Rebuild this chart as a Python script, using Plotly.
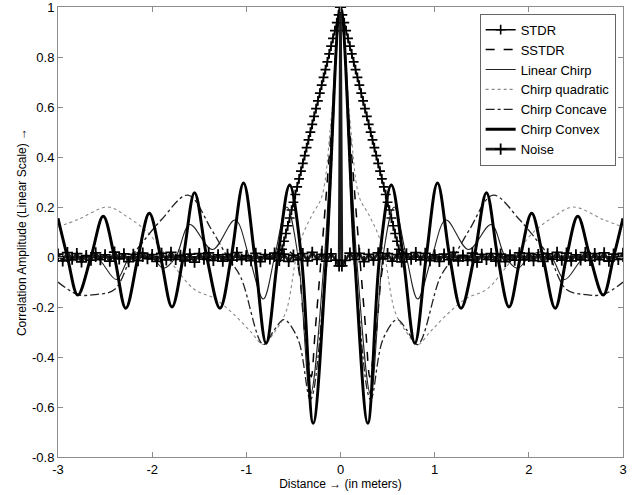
import plotly.graph_objects as go

# ---------------- data ----------------
stdr_x = [-3.0, -2.9, -2.8, -2.7, -2.6, -2.5, -2.4, -2.3, -2.2, -2.1, -2.0, -1.9, -1.8, -1.7, -1.6, -1.5,
          -1.4, -1.3, -1.2, -1.1, -1.0, -0.9, -0.8, -0.7,
          -0.64, -0.62, -0.60, -0.58, -0.56, -0.54, -0.52, -0.50, -0.48, -0.46, -0.44, -0.42, -0.40, -0.38,
          -0.36, -0.34, -0.32, -0.30, -0.28, -0.26, -0.24, -0.22, -0.20, -0.18, -0.16, -0.14, -0.12, -0.10,
          -0.08, -0.06, -0.04, -0.02, 0.0,
          0.02, 0.04, 0.06, 0.08, 0.10, 0.12, 0.14, 0.16, 0.18, 0.20, 0.22, 0.24, 0.26, 0.28, 0.30, 0.32,
          0.34, 0.36, 0.38, 0.40, 0.42, 0.44, 0.46, 0.48, 0.50, 0.52, 0.54, 0.56, 0.58, 0.60, 0.62, 0.64,
          0.7, 0.8, 0.9, 1.0, 1.1, 1.2, 1.3, 1.4, 1.5, 1.6, 1.7, 1.8, 1.9, 2.0, 2.1, 2.2, 2.3, 2.4, 2.5,
          2.6, 2.7, 2.8, 2.9, 3.0]
stdr_y = [0, 0, 0, 0, 0, 0, 0, 0, 0, 0, 0, 0, 0, 0, 0, 0, 0, 0, 0, 0, 0, 0, 0, 0,
          0.0, 0.031, 0.063, 0.094, 0.125, 0.156, 0.188, 0.219, 0.25, 0.281, 0.313, 0.344, 0.375, 0.406,
          0.438, 0.469, 0.5, 0.531, 0.563, 0.594, 0.625, 0.656, 0.688, 0.719, 0.75, 0.781, 0.813, 0.844,
          0.875, 0.906, 0.938, 0.969, 1.0,
          0.969, 0.938, 0.906, 0.875, 0.844, 0.813, 0.781, 0.75, 0.719, 0.688, 0.656, 0.625, 0.594, 0.563,
          0.531, 0.5, 0.469, 0.438, 0.406, 0.375, 0.344, 0.313, 0.281, 0.25, 0.219, 0.188, 0.156, 0.125,
          0.094, 0.063, 0.031, 0.0,
          0, 0, 0, 0, 0, 0, 0, 0, 0, 0, 0, 0, 0, 0, 0, 0, 0, 0, 0, 0, 0, 0, 0, 0]

sstdr_x = [-3.0, -0.8, -0.6, -0.48, -0.38, -0.31, -0.27, -0.2, -0.1, 0.0, 0.1, 0.2, 0.27, 0.31, 0.38, 0.48, 0.6, 0.8, 3.0]
sstdr_y = [0.0, 0.0, 0.03, 0.0, -0.3, -0.48, -0.3, 0.02, 0.5, 1.0, 0.5, 0.02, -0.3, -0.48, -0.3, 0.0, 0.03, 0.0, 0.0]

linear_x = [-3.0, -2.85, -2.6, -2.38, -2.24, -2.12, -2.0, -1.88, -1.75, -1.6, -1.36, -1.12, -0.97, -0.82, -0.7,
            -0.57, -0.45, -0.32, -0.17, 0.0, 0.17, 0.32, 0.45, 0.57, 0.7, 0.82, 0.97, 1.12, 1.36, 1.6, 1.75,
            1.88, 2.0, 2.12, 2.24, 2.38, 2.6, 2.85, 3.0]
linear_y = [0.0, -0.015, 0.0, -0.09, 0.0, 0.02, 0.0, -0.045, 0.0, 0.13, 0.03, 0.148, 0.0, -0.168, 0.0,
            0.2, 0.0, -0.55, 0.0, 1.0, 0.0, -0.55, 0.0, 0.2, 0.0, -0.168, 0.0, 0.148, 0.03, 0.13, 0.0,
            -0.045, 0.0, 0.02, 0.0, -0.09, 0.0, -0.015, 0.0]

quad_x = [-3.0, -2.79, -2.47, -2.26, -2.05, -1.9, -1.76, -1.55, -1.34, -1.13, -0.95, -0.82, -0.7, -0.58,
          -0.47, -0.4, -0.3, -0.2, -0.1, 0.0, 0.1, 0.2, 0.3, 0.4, 0.47, 0.58, 0.7, 0.82, 0.95, 1.13, 1.34,
          1.55, 1.76, 1.9, 2.05, 2.26, 2.47, 2.79, 3.0]
quad_y = [0.12, 0.15, 0.2, 0.16, 0.1, 0.03, -0.04, -0.13, -0.165, -0.23, -0.3, -0.35, -0.3, -0.22,
          0.0, 0.09, 0.17, 0.24, 0.55, 1.0, 0.55, 0.24, 0.17, 0.09, 0.0, -0.22, -0.3, -0.35, -0.3, -0.23,
          -0.165, -0.13, -0.04, 0.03, 0.1, 0.16, 0.2, 0.15, 0.12]

concave_x = [-3.0, -2.79, -2.6, -2.4, -2.22, -2.1, -1.9, -1.62, -1.37, -1.2, -1.06, -0.82, -0.7, -0.6,
             -0.45, -0.32, -0.15, 0.0, 0.15, 0.32, 0.45, 0.6, 0.7, 0.82, 1.06, 1.2, 1.37, 1.62, 1.9, 2.1,
             2.22, 2.4, 2.6, 2.79, 3.0]
concave_y = [-0.1, -0.15, -0.15, -0.13, 0.0, 0.06, 0.15, 0.248, 0.11, 0.0, -0.08, -0.35, -0.29, -0.25,
             -0.33, -0.57, 0.0, 1.0, 0.0, -0.57, -0.33, -0.25, -0.29, -0.35, -0.08, 0.0, 0.11, 0.248, 0.15,
             0.06, 0.0, -0.13, -0.15, -0.15, -0.1]

convex_x = [-3.0, -2.9, -2.79, -2.65, -2.52, -2.4, -2.28, -2.15, -2.03, -1.91, -1.79, -1.67, -1.55, -1.42,
            -1.28, -1.16, -1.03, -0.91, -0.79, -0.665, -0.54, -0.415, -0.29, -0.15, 0.0, 0.15, 0.29, 0.415,
            0.54, 0.665, 0.79, 0.91, 1.03, 1.16, 1.28, 1.42, 1.55, 1.67, 1.79, 1.91, 2.03, 2.15, 2.28, 2.4,
            2.52, 2.65, 2.79, 2.9, 3.0]
convex_y = [0.155, 0.0, -0.152, 0.0, 0.163, 0.0, -0.205, 0.0, 0.175, 0.0, -0.2, 0.0, 0.257, 0.0,
            -0.205, 0.0, 0.296, 0.0, -0.345, 0.0, 0.288, 0.0, -0.665, 0.0, 1.0, 0.0, -0.665, 0.0,
            0.288, 0.0, -0.345, 0.0, 0.296, 0.0, -0.205, 0.0, 0.257, 0.0, -0.2, 0.0, 0.175, 0.0, -0.205, 0.0,
            0.163, 0.0, -0.152, 0.0, 0.155]

noise_x = [-3.00, -2.95, -2.90, -2.85, -2.80, -2.75, -2.70, -2.65, -2.60, -2.55,
           -2.50, -2.45, -2.40, -2.35, -2.30, -2.25, -2.20, -2.15, -2.10, -2.05,
           -2.00, -1.95, -1.90, -1.85, -1.80, -1.75, -1.70, -1.65, -1.60, -1.55,
           -1.50, -1.45, -1.40, -1.35, -1.30, -1.25, -1.20, -1.15, -1.10, -1.05,
           -1.00, -0.95, -0.90, -0.85, -0.80, -0.75, -0.70, -0.65, -0.60, -0.55,
           -0.50, -0.45, -0.40, -0.35, -0.30, -0.25, -0.20, -0.15, -0.10, -0.05,
           -0.015, 0.0, 0.015,
           0.05, 0.10, 0.15, 0.20, 0.25, 0.30, 0.35, 0.40, 0.45, 0.50,
           0.55, 0.60, 0.65, 0.70, 0.75, 0.80, 0.85, 0.90, 0.95, 1.00,
           1.05, 1.10, 1.15, 1.20, 1.25, 1.30, 1.35, 1.40, 1.45, 1.50,
           1.55, 1.60, 1.65, 1.70, 1.75, 1.80, 1.85, 1.90, 1.95, 2.00,
           2.05, 2.10, 2.15, 2.20, 2.25, 2.30, 2.35, 2.40, 2.45, 2.50,
           2.55, 2.60, 2.65, 2.70, 2.75, 2.80, 2.85, 2.90, 2.95, 3.00]
noise_y = [0.012, -0.015, 0.018, -0.008, 0.014, -0.019, 0.006, -0.012, 0.017, -0.010,
           0.009, -0.016, 0.020, -0.007, 0.013, -0.018, 0.011, -0.014, 0.016, -0.006,
           0.010, -0.017, 0.015, -0.011, 0.019, -0.009, 0.007, -0.015, 0.012, -0.020,
           0.014, -0.008, 0.017, -0.013, 0.009, -0.016, 0.011, -0.012, 0.018, -0.010,
           0.006, -0.014, 0.015, -0.018, 0.010, -0.007, 0.016, -0.013, 0.012, -0.017,
           0.008, -0.011, 0.014, -0.015, 0.019, -0.009, 0.011, -0.016, 0.013, -0.012,
           -0.035, 1.0, -0.035,
           -0.013, 0.016, -0.009, 0.015, -0.018, 0.011, -0.012, 0.017, -0.007, 0.014,
           -0.016, 0.010, -0.019, 0.013, -0.008, 0.018, -0.011, 0.015, -0.014, 0.009,
           -0.017, 0.012, -0.010, 0.019, -0.015, 0.007, -0.013, 0.016, -0.020, 0.011,
           -0.009, 0.014, -0.016, 0.012, -0.018, 0.008, -0.012, 0.017, -0.011, 0.015,
           -0.014, 0.010, -0.017, 0.013, -0.008, 0.019, -0.012, 0.016, -0.015, 0.009,
           -0.011, 0.018, -0.013, 0.014, -0.010, 0.017, -0.016, 0.012, -0.009, 0.015]

x_ticks = [-3, -2, -1, 0, 1, 2, 3]
x_ticktext = ["-3", "-2", "-1", "0", "1", "2", "3"]
y_ticks = [-0.8, -0.6, -0.4, -0.2, 0, 0.2, 0.4, 0.6, 0.8, 1]
y_ticktext = ["-0.8", "-0.6", "-0.4", "-0.2", "0", "0.2", "0.4", "0.6", "0.8", "1"]

# ---------------- figure ----------------
fig = go.Figure()

fig.add_trace(go.Scatter(x=stdr_x, y=stdr_y, name="STDR", mode="lines+markers",
                         line=dict(color="black", width=1.5),
                         marker=dict(symbol="cross-thin", size=7, line=dict(color="black", width=1.6))))
fig.add_trace(go.Scatter(x=sstdr_x, y=sstdr_y, name="SSTDR", mode="lines",
                         line=dict(color="black", width=1.5, dash="dash", shape="spline", smoothing=0.8)))
fig.add_trace(go.Scatter(x=linear_x, y=linear_y, name="Linear Chirp", mode="lines",
                         line=dict(color="#222222", width=1.1, shape="spline", smoothing=1.0)))
fig.add_trace(go.Scatter(x=quad_x, y=quad_y, name="Chirp quadratic", mode="lines",
                         line=dict(color="#8a8a8a", width=1.1, dash="dot", shape="spline", smoothing=1.0)))
fig.add_trace(go.Scatter(x=concave_x, y=concave_y, name="Chirp Concave", mode="lines",
                         line=dict(color="#222222", width=1.3, dash="dashdot", shape="spline", smoothing=1.0)))
fig.add_trace(go.Scatter(x=convex_x, y=convex_y, name="Chirp Convex", mode="lines",
                         line=dict(color="black", width=3, shape="spline", smoothing=1.0)))
fig.add_trace(go.Scatter(x=noise_x, y=noise_y, name="Noise", mode="lines+markers",
                         line=dict(color="#1a1a1a", width=2.6),
                         marker=dict(symbol="cross-thin", size=8, line=dict(color="black", width=1.8))))

axis_color = "#8c8c8c"
fig.update_layout(
    width=638, height=495,
    margin=dict(l=58, r=15, t=7, b=38, autoexpand=False),
    paper_bgcolor="white", plot_bgcolor="white",
    font=dict(family="Liberation Sans, Arial, sans-serif", size=13, color="black"),
    showlegend=True,
    legend=dict(x=0.987, xanchor="right", y=0.985, yanchor="top",
                bgcolor="white", bordercolor="#666666", borderwidth=1,
                font=dict(size=13, color="black"), tracegroupgap=0, itemwidth=30),
    xaxis=dict(range=[-3, 3], tickvals=x_ticks, ticktext=x_ticktext, automargin=False,
               ticks="inside", ticklen=5, tickcolor=axis_color,
               showline=True, linecolor=axis_color, linewidth=1, mirror="ticks",
               showgrid=False, zeroline=False, ticklabeloverflow="allow",
               title=dict(text="Distance → (in meters)", font=dict(size=12), standoff=2)),
    yaxis=dict(range=[-0.8, 1.0005], tickvals=y_ticks, ticktext=y_ticktext, automargin=False,
               ticks="inside", ticklen=5, tickcolor=axis_color,
               showline=True, linecolor=axis_color, linewidth=1, mirror="ticks",
               showgrid=False, zeroline=False, ticklabeloverflow="allow",
               title=dict(text="Correlation Amplitude (Linear Scale) →", font=dict(size=12), standoff=2)),
)

fig.write_html("out.html", config={"displayModeBar": False},
               post_script="document.body.style.margin='0px';")
